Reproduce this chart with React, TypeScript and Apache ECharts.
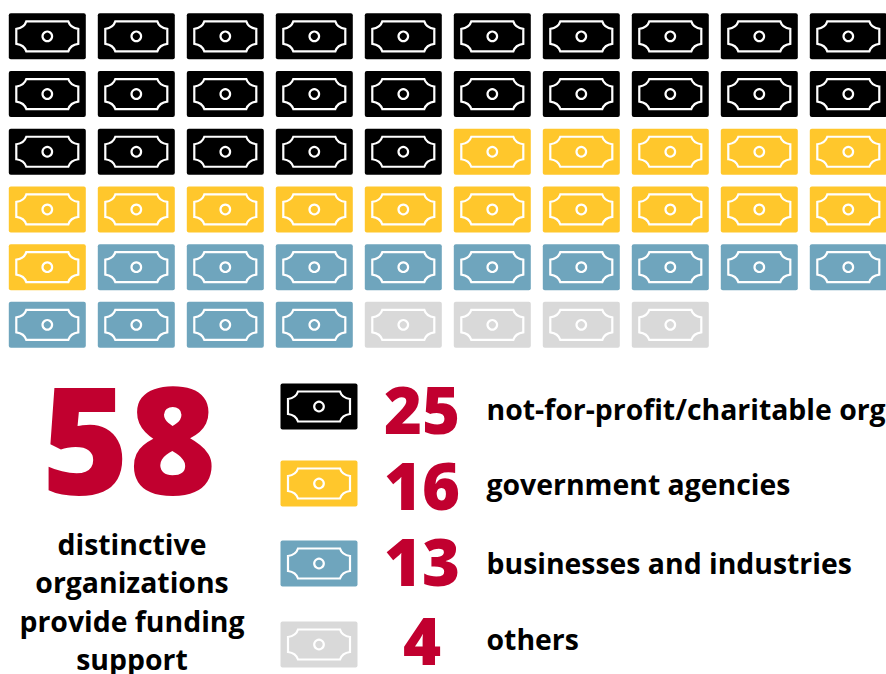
import React, { useEffect, useRef } from "react";
import * as echarts from "echarts";

const categories = ["not-for-profit/charitable org", "government agencies", "businesses and industries", "others"];
const counts = [25, 16, 13, 4];
const colors = ["#000000", "#FFC72C", "#6FA5BD", "#D9D9D9"];
const total = 58;
const captionLines = ["distinctive", "organizations", "provide funding", "support"];
const COLUMNS = 10;
const ROWS = 6;

const legendIconY = [406.5, 483.5, 563.5, 644.5];
const legendNumberY = [409, 485, 561, 640];
const legendLabelY = [410, 485, 564, 640];
const captionY = [545, 583, 622, 660];

const BILL_W = 77;
const BILL_H = 46;
const OUTLINE = "M-21,-15 L21,-15 Q23,-8.5 31,-7.5 L31,7.5 Q23,8.5 21,15 L-21,15 Q-23,8.5 -31,7.5 L-31,-7.5 Q-23,-8.5 -21,-15 Z";

const cells: number[][] = [];
counts.forEach((n, c) => {
  for (let i = 0; i < n; i++) {
    const idx = cells.length;
    cells.push([idx % COLUMNS, Math.floor(idx / COLUMNS), c]);
  }
});

const RED = "#C1002F";
const FONT = "'Open Sans', sans-serif";

function billElements(cx: number, cy: number, fill: string) {
  return [
    { type: "rect", shape: { x: cx - BILL_W / 2, y: cy - BILL_H / 2, width: BILL_W, height: BILL_H, r: 2 }, style: { fill } },
    { type: "path", x: cx, y: cy, shape: { pathData: OUTLINE, layout: "cover", x: -31, y: -15, width: 62, height: 30 }, style: { fill: "none", stroke: "#fff", lineWidth: 2.2 } },
    { type: "circle", shape: { cx, cy, r: 4.8 }, style: { fill: "none", stroke: "#fff", lineWidth: 2.2 } },
  ];
}

export default function App() {
  const ref = useRef<HTMLDivElement>(null);
  useEffect(() => {
    const chart = echarts.init(ref.current!, null, { renderer: "svg" });
    const text = (t: string, x: number, y: number, size: number, fill: string, weight: number, align = "left") => ({
      type: "text",
      x,
      y,
      style: { text: t, fontFamily: FONT, fontSize: size, fontWeight: weight, fill, align, verticalAlign: "middle", lineHeight: size * 0.9 },
    });
    const graphic: any[] = [text(String(total), 129, 437, 149, RED, 800, "center")];
    captionLines.forEach((l, i) => graphic.push(text(l, 132, captionY[i] - 1, 28.4, "#000", 700, "center")));
    categories.forEach((c, i) => {
      graphic.push(text(String(counts[i]), 422, legendNumberY[i], 65, RED, 800, "center"));
      graphic.push(text(c, 486.5, legendLabelY[i] - 1, 28.4, "#000", 700));
    });
    chart.setOption({
      animation: false,
      grid: [
        { left: 2.8, width: 890, top: 7.5, height: 346.2, outerBoundsMode: "none" },
        { left: 281, width: 76, top: 368, bottom: 0, outerBoundsMode: "none" },
      ],
      xAxis: [
        { type: "value", min: 0, max: COLUMNS, show: false, gridIndex: 0 },
        { type: "value", min: 0, max: 1, show: false, gridIndex: 1 },
      ],
      yAxis: [
        { type: "value", min: 0, max: ROWS, inverse: true, show: false, gridIndex: 0 },
        { type: "value", min: 368, max: 674, inverse: true, show: false, gridIndex: 1 },
      ],
      series: [
        {
          type: "custom",
          xAxisIndex: 0,
          yAxisIndex: 0,
          data: cells,
          silent: true,
          clip: false,
          renderItem: (_p: any, api: any) => {
            const pt = api.coord([api.value(0) + 0.5, api.value(1) + 0.5]);
            return { type: "group", children: billElements(pt[0], pt[1], colors[api.value(2)]) };
          },
        },
        {
          type: "custom",
          xAxisIndex: 1,
          yAxisIndex: 1,
          data: legendIconY.map((y, i) => [0.5, y, i]),
          silent: true,
          renderItem: (_p: any, api: any) => {
            const pt = api.coord([api.value(0), api.value(1)]);
            return { type: "group", children: billElements(pt[0], pt[1], colors[api.value(2)]) };
          },
        },
      ],
      graphic,
    });
    return () => chart.dispose();
  }, []);
  return <div ref={ref} style={{ position: "absolute", left: 0, top: 0, width: 886, height: 674, background: "#fff" }} />;
}
